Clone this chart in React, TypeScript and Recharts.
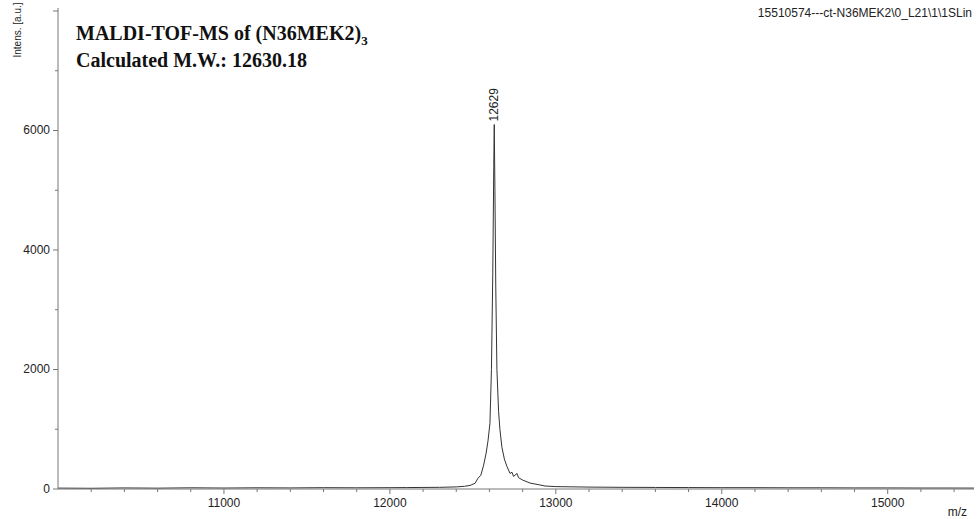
import React from "react";
import { LineChart, Line, XAxis, YAxis } from "recharts";

// MALDI-TOF spectrum (m/z vs intensity)
const mzValues = [
  10000, 10200, 10400, 10600, 10800, 11000, 11200, 11400, 11600, 11800,
  12000, 12100, 12200, 12300, 12400, 12450, 12483, 12513, 12531, 12548,
  12565, 12580, 12591, 12603, 12612, 12620, 12626, 12629, 12633, 12638,
  12645, 12655, 12663, 12675, 12690, 12705, 12724, 12736, 12745, 12766,
  12775, 12800, 12844, 12900, 12935, 13000, 13200, 13400, 13600, 13800,
  14000, 14200, 14400, 14600, 14800, 15000, 15200, 15400, 15520,
];
const intensities = [
  15, 12, 18, 14, 20, 16, 20, 18, 22, 20,
  22, 24, 26, 28, 35, 45, 60, 95, 180, 230,
  400, 600, 800, 1100, 2000, 3600, 5400, 6100, 5000, 3400,
  2000, 1300, 1000, 700, 500, 380, 260, 280, 210, 260,
  190, 150, 100, 70, 50, 40, 32, 28, 26, 24,
  22, 22, 20, 20, 18, 18, 16, 16, 15,
];

const xTicks = [
  10200, 10400, 10600, 10800, 11000, 11200, 11400, 11600, 11800, 12000,
  12200, 12400, 12600, 12800, 13000, 13200, 13400, 13600, 13800, 14000,
  14200, 14400, 14600, 14800, 15000, 15200, 15400,
];
const yTicks = [0, 1000, 2000, 3000, 4000, 5000, 6000, 7000, 8000];
const peakLabel = "12629";

const data = mzValues.map((mz, i) => ({ mz, intensity: intensities[i] }));
const peakMax = Math.max(...intensities);

const axisColor = "#777";
const textColor = "#222";
const sans = "Liberation Sans, Arial, sans-serif";
const serif = "Liberation Serif, Times New Roman, serif";

const XTick = (props: any) => {
  const { x, y, payload } = props;
  const major = payload.value % 1000 === 0;
  return (
    <g>
      <line x1={x} x2={x} y1={y} y2={y + (major ? 5 : 3)} stroke={axisColor} />
      {major && (
        <text x={x} y={y + 18} textAnchor="middle" fontSize={12} fontFamily={sans} fill={textColor}>
          {payload.value}
        </text>
      )}
    </g>
  );
};

const YTick = (props: any) => {
  const { x, y, payload } = props;
  const major = payload.value % 2000 === 0;
  return (
    <g>
      <line x1={x - (major ? 5 : 3)} x2={x} y1={y} y2={y} stroke={axisColor} />
      {major && payload.value < 8000 && (
        <text x={x - 8} y={y + 4} textAnchor="end" fontSize={12} fontFamily={sans} fill={textColor}>
          {payload.value}
        </text>
      )}
    </g>
  );
};

const renderPeakLabel = (props: any) => {
  const { x, y, value } = props;
  if (value !== peakMax) return null;
  return (
    <text
      x={x + 4}
      y={y - 3}
      transform={`rotate(-90 ${x + 4} ${y - 3})`}
      textAnchor="start"
      fontSize={12}
      fontFamily={sans}
      fill={textColor}
    >
      {peakLabel}
    </text>
  );
};

export default function App() {
  return (
    <div style={{ position: "absolute", left: 0, top: 0, background: "#fff" }}>
      <LineChart
        width={979}
        height={519}
        data={data}
        margin={{ top: 8, right: 5, bottom: 0, left: 0 }}
      >
        <XAxis
          dataKey="mz"
          type="number"
          domain={[10000, 15520]}
          ticks={xTicks}
          allowDataOverflow
          interval={0}
          tickLine={false}
          tickSize={0}
          tickMargin={0}
          tick={<XTick />}
          stroke={axisColor}
          height={30}
        />
        <XAxis
          xAxisId="top"
          dataKey="mz"
          type="number"
          domain={[10000, 15520]}
          orientation="top"
          tick={false}
          tickLine={false}
          stroke={axisColor}
          height={0}
        />
        <YAxis
          type="number"
          domain={[0, 8050]}
          ticks={yTicks}
          allowDataOverflow
          interval={0}
          tickLine={false}
          tickSize={0}
          tickMargin={0}
          tick={<YTick />}
          stroke={axisColor}
          width={58}
        />
        <YAxis
          yAxisId="right"
          orientation="right"
          type="number"
          domain={[0, 8050]}
          tick={false}
          tickLine={false}
          stroke={axisColor}
          width={0}
        />
        <Line
          dataKey="intensity"
          stroke="#333"
          strokeWidth={1}
          dot={false}
          isAnimationActive={false}
          label={renderPeakLabel}
        />
        <text x={76} y={40} fontFamily={serif} fontWeight="bold" fontSize={20} fill="#111">
          MALDI-TOF-MS of (N36MEK2)
          <tspan fontSize={13} dy={5}>3</tspan>
        </text>
        <text x={76} y={67} fontFamily={serif} fontWeight="bold" fontSize={20} fill="#111">
          Calculated M.W.: 12630.18
        </text>
        <text x={972} y={17} textAnchor="end" fontFamily={sans} fontSize={12} fill={textColor}>
          {"15510574---ct-N36MEK2\\0_L21\\1\\1SLin"}
        </text>
        <text
          x={21}
          y={30}
          transform="rotate(-90 21 30)"
          textAnchor="middle"
          fontFamily={sans}
          fontSize={10}
          fill={textColor}
        >
          Intens. [a.u.]
        </text>
        <text x={967} y={516} textAnchor="end" fontFamily={sans} fontSize={12} fill={textColor}>
          m/z
        </text>
      </LineChart>
    </div>
  );
}
